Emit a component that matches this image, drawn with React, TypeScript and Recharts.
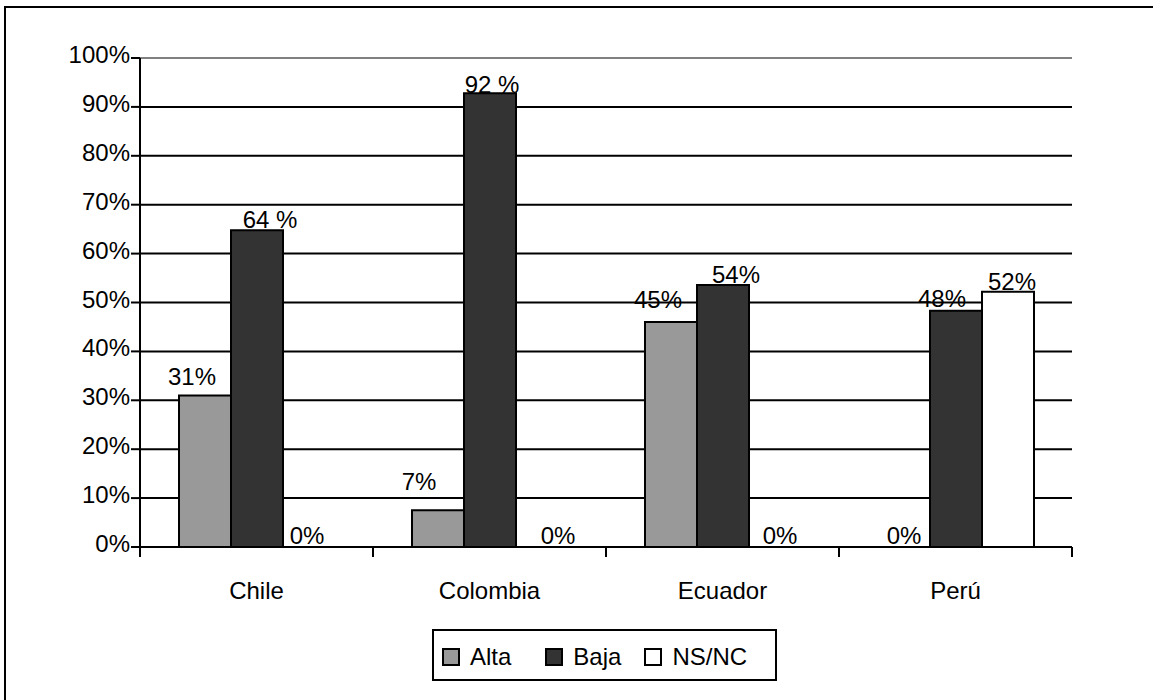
import {
  BarChart,
  Bar,
  XAxis,
  YAxis,
  CartesianGrid,
  ReferenceLine,
  LabelList,
  Legend,
} from 'recharts';

// values (percent)
const countries = ['Chile', 'Colombia', 'Ecuador', 'Perú'];
const alta = [31, 7.5, 46, 0];
const baja = [64.8, 92.8, 53.6, 48.3];
const nsnc = [0, 0, 0, 52.2];

// data labels exactly as printed on the chart
const altaLabels = ['31%', '7%', '45%', '0%'];
const bajaLabels = ['64 %', '92 %', '54%', '48%'];
const nsncLabels = ['0%', '0%', '0%', '52%'];

const yTicks = [0, 10, 20, 30, 40, 50, 60, 70, 80, 90, 100];

const data = countries.map((name, i) => ({
  name,
  alta: alta[i],
  baja: baja[i],
  nsnc: nsnc[i],
}));

const series = [
  { key: 'alta', name: 'Alta', fill: '#999999', labels: altaLabels },
  { key: 'baja', name: 'Baja', fill: '#333333', labels: bajaLabels },
  { key: 'nsnc', name: 'NS/NC', fill: '#ffffff', labels: nsncLabels },
];

// the labels were hand-placed in the original, nudge them a bit [dx, baseline dy]
const labelNudge: Record<string, number[][]> = {
  alta: [[-13, -10], [-19, -20], [-13, -14], [0, -3]],
  baja: [[13, -2], [2, 0], [13, -2], [-14, -4]],
  nsnc: [[-2, -3], [16, -3], [5, -3], [4, -2]],
};

const W = 1153;
const H = 700;
const LEFT = 140;
const RIGHT = 81;
const BAND = (W - LEFT - RIGHT) / countries.length;
const FONT = '"Liberation Sans", Arial, sans-serif';

const YTick = ({ x, y, payload }: any) => (
  <text x={x} y={y + 5} textAnchor="end" fontSize={24} fontFamily={FONT} fill="#000">
    {`${payload.value}%`}
  </text>
);

const XTick = ({ x, y, payload, index }: any) => (
  <g>
    <line x1={x - BAND / 2} x2={x - BAND / 2} y1={y} y2={y + 10} stroke="#000" strokeWidth={2} />
    {index === countries.length - 1 && (
      <line x1={x + BAND / 2} x2={x + BAND / 2} y1={y} y2={y + 10} stroke="#000" strokeWidth={2} />
    )}
    <text x={x} y={y + 52} textAnchor="middle" fontSize={24} fontFamily={FONT} fill="#000">
      {payload.value}
    </text>
  </g>
);

// zero bars may be dropped from the label list, so find the category from the bar's x
const makeLabel = (key: string, labels: string[]) => (props: any) => {
  const { x, y, width } = props;
  const idx = Math.min(countries.length - 1, Math.max(0, Math.floor((x + width / 2 - LEFT) / BAND)));
  const [dx, dy] = labelNudge[key][idx];
  return (
    <text
      x={x + width / 2 + dx}
      y={y + dy}
      textAnchor="middle"
      fontSize={24}
      fontFamily={FONT}
      fill="#000"
    >
      {labels[idx]}
    </text>
  );
};

const legendGaps = [34, 23, 0];

const LegendBox = ({ payload }: any) => (
  <div
    style={{
      width: '100%',
      height: '100%',
      boxSizing: 'border-box',
      border: '2px solid #000',
      background: '#fff',
      display: 'flex',
      alignItems: 'center',
      paddingLeft: 8,
      paddingTop: 4,
      fontFamily: FONT,
      fontSize: 24,
      color: '#000',
    }}
  >
    {(payload || []).map((entry: any, i: number) => (
      <div key={entry.value} style={{ display: 'flex', alignItems: 'center', marginRight: legendGaps[i] }}>
        <span
          style={{
            display: 'inline-block',
            width: 18,
            height: 18,
            boxSizing: 'border-box',
            border: '2px solid #000',
            background: entry.color,
            marginRight: 10,
          }}
        />
        <span>{entry.value}</span>
      </div>
    ))}
  </div>
);

export default function App() {
  return (
    <div style={{ position: 'fixed', left: 0, top: 0, width: W, height: H, background: '#fff' }}>
      <div
        style={{
          position: 'absolute',
          left: 4,
          top: 6,
          width: W - 4,
          height: H - 6,
          boxSizing: 'border-box',
          borderLeft: '2px solid #000',
          borderTop: '2px solid #000',
        }}
      />
      <div style={{ position: 'absolute', left: 0, top: 0 }}>
        <BarChart
          width={W}
          height={H}
          data={data}
          margin={{ top: 58, right: RIGHT, bottom: 93, left: 0 }}
          barSize={52}
          barGap={0}
        >
          <CartesianGrid vertical={false} stroke="#000" strokeWidth={2} />
          <XAxis
            dataKey="name"
            height={60}
            tickLine={false}
            tickSize={0}
            tickMargin={0}
            axisLine={{ stroke: '#000', strokeWidth: 2 }}
            tick={<XTick />}
            interval={0}
          />
          <YAxis
            width={LEFT}
            domain={[0, 100]}
            ticks={yTicks}
            interval={0}
            tickSize={9}
            tickMargin={1}
            tickLine={{ stroke: '#000', strokeWidth: 2 }}
            axisLine={{ stroke: '#000', strokeWidth: 2 }}
            tick={<YTick />}
          />
          <YAxis
            yAxisId="r"
            orientation="right"
            width={0}
            domain={[0, 100]}
            tick={false}
            tickLine={false}
            axisLine={{ stroke: '#808080', strokeWidth: 2 }}
          />
          <ReferenceLine y={100} stroke="#808080" strokeWidth={2} />
          <Legend
            layout="horizontal"
            verticalAlign="middle"
            align="center"
            wrapperStyle={{ left: 432, top: 629, width: 345, height: 52 }}
            content={<LegendBox />}
          />
          {series.map((s) => (
            <Bar
              key={s.key}
              dataKey={s.key}
              name={s.name}
              fill={s.fill}
              stroke="#000"
              strokeWidth={2}
              minPointSize={(v: number) => (v === 0 ? 0.01 : 0)}
              isAnimationActive={false}
            >
              <LabelList dataKey={s.key} content={makeLabel(s.key, s.labels)} />
            </Bar>
          ))}
        </BarChart>
      </div>
    </div>
  );
}
